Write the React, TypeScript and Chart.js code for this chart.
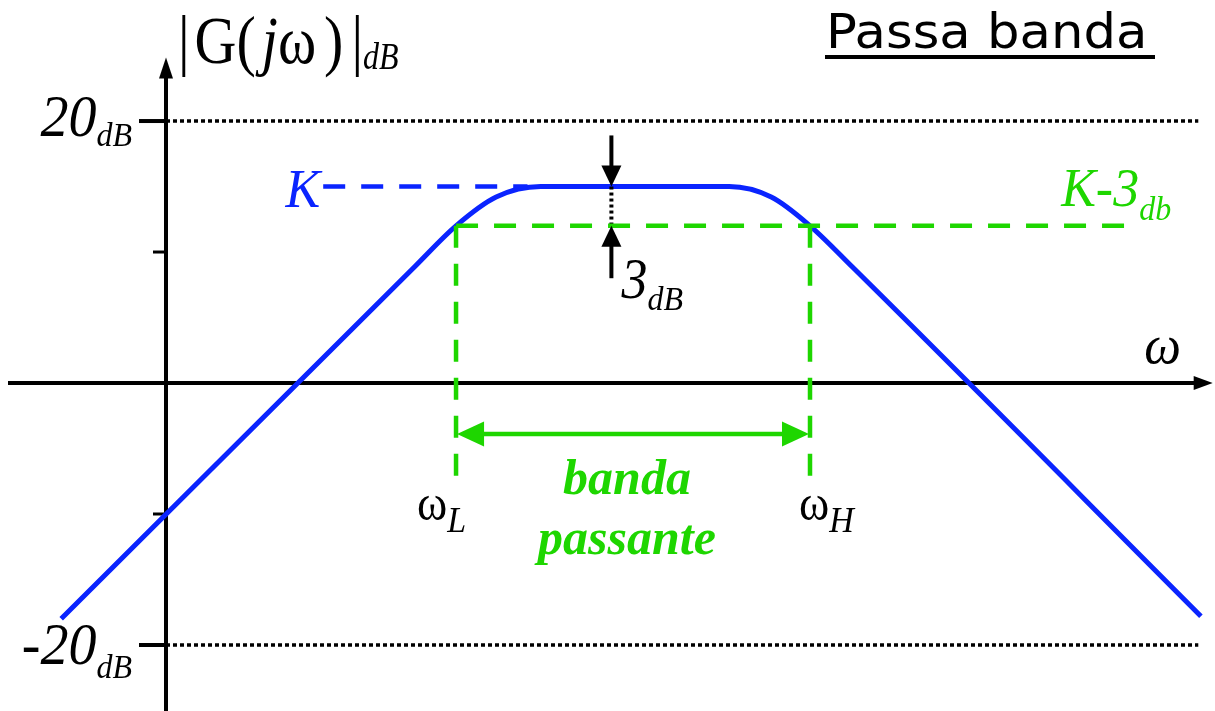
import { useEffect, useRef } from "react";
import { Chart, registerables } from "chart.js";

Chart.register(...registerables);

const BLUE = "#0a24ff";
const GREEN = "#1ed600";
const BLACK = "#000000";
const SERIF = '"Liberation Serif", "DejaVu Serif", serif';
const SANS = '"DejaVu Sans", Verdana, sans-serif';

// Band-pass magnitude (dB) against log10(ω); the knees round off near ωL and ωH.
const omegaLog = [-0.4, 0.95, 1.107, 1.26, 1.43, 2.15, 2.31, 2.458, 2.62, 3.95];
const magnitudeDb = [-18, 8.9, 12, 14.2, 15, 15, 14.2, 12, 8.85, -17.8];

// Reference levels and frequencies
const gainK = 15;
const gainK3 = 12;
const omegaL = 1.107;
const omegaH = 2.458;
const markX = 1.7;
const kDashFrom = 0.6;
const kDashTo = 1.38;
const k3DashTo = 3.68;
const bandArrowDb = -3.9;
const bandFootDb = -7.2;
const guideDb = [20, -20];
const minorDb = [10, -10];
const guideEnd = 3.94;
const xAxisTip = 3.995;
const yAxisTip = 24.85;
const markTopDb = 18.9;
const markBottomDb = 8.0;

// Visible window in data units
const X_MIN = -0.6336;
const X_MAX = 4.0038;
const Y_MIN = -25.04;
const Y_MAX = 29.24;

type Run = { text: string; font: string; dy?: number; gap?: number };

function drawRuns(
  ctx: CanvasRenderingContext2D,
  runs: Run[],
  x: number,
  y: number,
  align: "left" | "right" | "center",
  color: string,
  sx = 1,
  sy = 1
) {
  ctx.save();
  ctx.textBaseline = "alphabetic";
  ctx.textAlign = "left";
  let total = 0;
  const widths = runs.map((r) => {
    ctx.font = r.font;
    const w = ctx.measureText(r.text).width + (r.gap || 0);
    total += w;
    return w;
  });
  const start = align === "right" ? x - total * sx : align === "center" ? x - (total * sx) / 2 : x;
  ctx.translate(start, y);
  ctx.scale(sx, sy);
  ctx.fillStyle = color;
  let cx = 0;
  runs.forEach((r, i) => {
    ctx.font = r.font;
    ctx.fillText(r.text, cx + (r.gap || 0), (r.dy || 0) / sy);
    cx += widths[i];
  });
  ctx.restore();
}

function arrowHead(
  ctx: CanvasRenderingContext2D,
  tipX: number,
  tipY: number,
  dirX: number,
  dirY: number,
  len: number,
  half: number,
  color: string
) {
  const bx = tipX - dirX * len;
  const by = tipY - dirY * len;
  const nx = -dirY;
  const ny = dirX;
  ctx.save();
  ctx.fillStyle = color;
  ctx.beginPath();
  ctx.moveTo(tipX, tipY);
  ctx.lineTo(bx + nx * half, by + ny * half);
  ctx.lineTo(bx - nx * half, by - ny * half);
  ctx.closePath();
  ctx.fill();
  ctx.restore();
}

function segment(
  ctx: CanvasRenderingContext2D,
  x1: number,
  y1: number,
  x2: number,
  y2: number,
  width: number,
  color: string
) {
  ctx.save();
  ctx.strokeStyle = color;
  ctx.lineWidth = width;
  ctx.lineCap = "butt";
  ctx.beginPath();
  ctx.moveTo(x1, y1);
  ctx.lineTo(x2, y2);
  ctx.stroke();
  ctx.restore();
}

const axesPlugin = {
  id: "bodeAxes",
  beforeDatasetsDraw(chart: Chart) {
    const ctx = chart.ctx;
    const xs = chart.scales.x;
    const ys = chart.scales.y;
    const x0 = xs.getPixelForValue(0);
    const y0 = ys.getPixelForValue(0);
    // horizontal ω axis with arrow
    const xTip = xs.getPixelForValue(xAxisTip);
    segment(ctx, xs.getPixelForValue(X_MIN) + 8, y0, xTip - 12, y0, 4, BLACK);
    arrowHead(ctx, xTip, y0, 1, 0, 19, 7, BLACK);
    // vertical magnitude axis with arrow
    const yTip = ys.getPixelForValue(yAxisTip);
    segment(ctx, x0, ys.getPixelForValue(Y_MIN), x0, yTip + 12, 4, BLACK);
    arrowHead(ctx, x0, yTip, 0, -1, 21, 7, BLACK);
    // ticks
    guideDb.forEach((v) => {
      const py = ys.getPixelForValue(v);
      segment(ctx, x0 - 27, py, x0, py, 4, BLACK);
    });
    minorDb.forEach((v) => {
      const py = ys.getPixelForValue(v);
      segment(ctx, x0 - 13, py, x0, py, 3, BLACK);
    });
  },
  afterDatasetsDraw(chart: Chart) {
    const ctx = chart.ctx;
    const xs = chart.scales.x;
    const ys = chart.scales.y;
    const px = (v: number) => xs.getPixelForValue(v);
    const py = (v: number) => ys.getPixelForValue(v);

    // 3 dB gap arrows
    const mx = px(markX);
    segment(ctx, mx, py(markTopDb), mx, py(gainK) - 18, 4, BLACK);
    arrowHead(ctx, mx, py(gainK), 0, 1, 21, 10, BLACK);
    segment(ctx, mx, py(markBottomDb), mx, py(gainK3) + 18, 4, BLACK);
    arrowHead(ctx, mx, py(gainK3), 0, -1, 21, 10, BLACK);

    // pass-band double arrow
    const by = py(bandArrowDb);
    const lx = px(omegaL) + 1;
    const rx = px(omegaH) - 1;
    segment(ctx, lx + 20, by, rx - 20, by, 4.5, GREEN);
    arrowHead(ctx, lx, by, -1, 0, 27, 12.5, GREEN);
    arrowHead(ctx, rx, by, 1, 0, 27, 12.5, GREEN);

    const it = (s: number) => `italic ${s}px ${SERIF}`;
    const up = (s: number) => `${s}px ${SERIF}`;

    // axis title
    drawRuns(
      ctx,
      [
        { text: "|", font: up(58) },
        { text: "G(", font: up(58), gap: 5 },
        { text: "j", font: it(58), gap: 6 },
        { text: "ω", font: up(58) },
        { text: ")", font: up(58), gap: 8 },
        { text: "|", font: up(58), gap: 8 },
        { text: "dB", font: it(32), dy: 6 },
      ],
      px(0) + 12,
      63,
      "left",
      BLACK,
      1,
      1.18
    );

    // level labels
    drawRuns(
      ctx,
      [
        { text: "20", font: it(56) },
        { text: "dB", font: it(32), dy: 10 },
      ],
      px(0) - 34,
      py(guideDb[0]) + 15,
      "right",
      BLACK,
      1,
      1.07
    );
    drawRuns(
      ctx,
      [
        { text: "-20", font: it(56) },
        { text: "dB", font: it(32), dy: 14 },
      ],
      px(0) - 34,
      py(guideDb[1]) + 19,
      "right",
      BLACK,
      1,
      1.07
    );

    drawRuns(ctx, [{ text: "K", font: it(52) }], px(kDashFrom) - 3, py(gainK) + 20, "right", BLUE, 1, 1.06);
    drawRuns(
      ctx,
      [
        { text: "K-3", font: it(52) },
        { text: "db", font: it(32), dy: 14 },
      ],
      px(k3DashTo) - 69,
      py(gainK3) - 20,
      "left",
      GREEN,
      1,
      1.06
    );
    drawRuns(
      ctx,
      [
        { text: "3", font: it(52) },
        { text: "dB", font: it(32), dy: 12 },
      ],
      mx + 10,
      py(markBottomDb) + 20,
      "left",
      BLACK,
      1,
      1.08
    );

    // frequency labels
    drawRuns(ctx, [{ text: "ω", font: it(52) }], px(xAxisTip) - 50, py(0) - 20, "center", BLACK, 1, 1.05);
    drawRuns(
      ctx,
      [
        { text: "ω", font: up(46) },
        { text: "L", font: it(34), dy: 12 },
      ],
      px(omegaL) - 39,
      py(0) + 137,
      "left",
      BLACK,
      1,
      1.08
    );
    drawRuns(
      ctx,
      [
        { text: "ω", font: up(46) },
        { text: "H", font: it(34), dy: 12 },
      ],
      px(omegaH) - 11,
      py(0) + 137,
      "left",
      BLACK,
      1,
      1.08
    );

    const bandX = (px(omegaL) + px(omegaH)) / 2 - 6;
    drawRuns(ctx, [{ text: "banda", font: `italic bold 50px ${SERIF}` }], bandX, py(0) + 111, "center", GREEN);
    drawRuns(ctx, [{ text: "passante", font: `italic bold 50px ${SERIF}` }], bandX, py(0) + 171, "center", GREEN);

    // chart title
    drawRuns(ctx, [{ text: "Passa banda", font: `47px ${SANS}` }], 826, 48, "left", BLACK, 1.09, 1.03);
    ctx.save();
    ctx.fillStyle = BLACK;
    ctx.fillRect(825, 55, 330, 4);
    ctx.restore();
  },
};

export default function App() {
  const canvasRef = useRef<HTMLCanvasElement | null>(null);

  useEffect(() => {
    const canvas = canvasRef.current;
    if (!canvas) return;
    const pts = (xs: number[], ys: number[]) => xs.map((x, i) => ({ x, y: ys[i] }));
    const flat = (x1: number, x2: number, y: number) => [
      { x: x1, y },
      { x: x2, y },
    ];
    const vert = (x: number, y1: number, y2: number) => [
      { x, y: y1 },
      { x, y: y2 },
    ];
    const base = { pointRadius: 0, fill: false, borderCapStyle: "butt" as const, tension: 0 };

    const chart = new Chart(canvas, {
      type: "line",
      data: {
        datasets: [
          ...guideDb.map((v) => ({
            ...base,
            data: flat(0, guideEnd, v),
            borderColor: BLACK,
            borderWidth: 3.5,
            borderDash: [4, 3],
          })),
          {
            ...base,
            data: flat(omegaL, k3DashTo, gainK3),
            borderColor: GREEN,
            borderWidth: 4.5,
            borderDash: [22, 16],
          },
          {
            ...base,
            data: vert(omegaL, gainK3, bandFootDb),
            borderColor: GREEN,
            borderWidth: 4.5,
            borderDash: [22, 16],
          },
          {
            ...base,
            data: vert(omegaH, gainK3, bandFootDb),
            borderColor: GREEN,
            borderWidth: 4.5,
            borderDash: [22, 16],
          },
          {
            ...base,
            data: flat(kDashFrom, kDashTo, gainK),
            borderColor: BLUE,
            borderWidth: 4.5,
            borderDash: [22, 16],
          },
          {
            ...base,
            data: vert(markX, gainK, gainK3),
            borderColor: BLACK,
            borderWidth: 4,
            borderDash: [3, 3],
          },
          {
            ...base,
            data: pts(omegaLog, magnitudeDb),
            borderColor: BLUE,
            borderWidth: 5,
            cubicInterpolationMode: "monotone" as const,
          },
        ],
      },
      options: {
        animation: false,
        responsive: false,
        devicePixelRatio: 1,
        layout: { padding: 0 },
        plugins: { legend: { display: false }, tooltip: { enabled: false } },
        events: [],
        scales: {
          x: { type: "linear", min: X_MIN, max: X_MAX, display: false },
          y: { type: "linear", min: Y_MIN, max: Y_MAX, display: false },
        },
      },
      plugins: [axesPlugin],
    });
    return () => chart.destroy();
  }, []);

  return (
    <div style={{ position: "fixed", left: 0, top: 0, width: 1215, height: 711, background: "#fff" }}>
      <canvas ref={canvasRef} width={1215} height={711} style={{ display: "block" }} />
    </div>
  );
}
